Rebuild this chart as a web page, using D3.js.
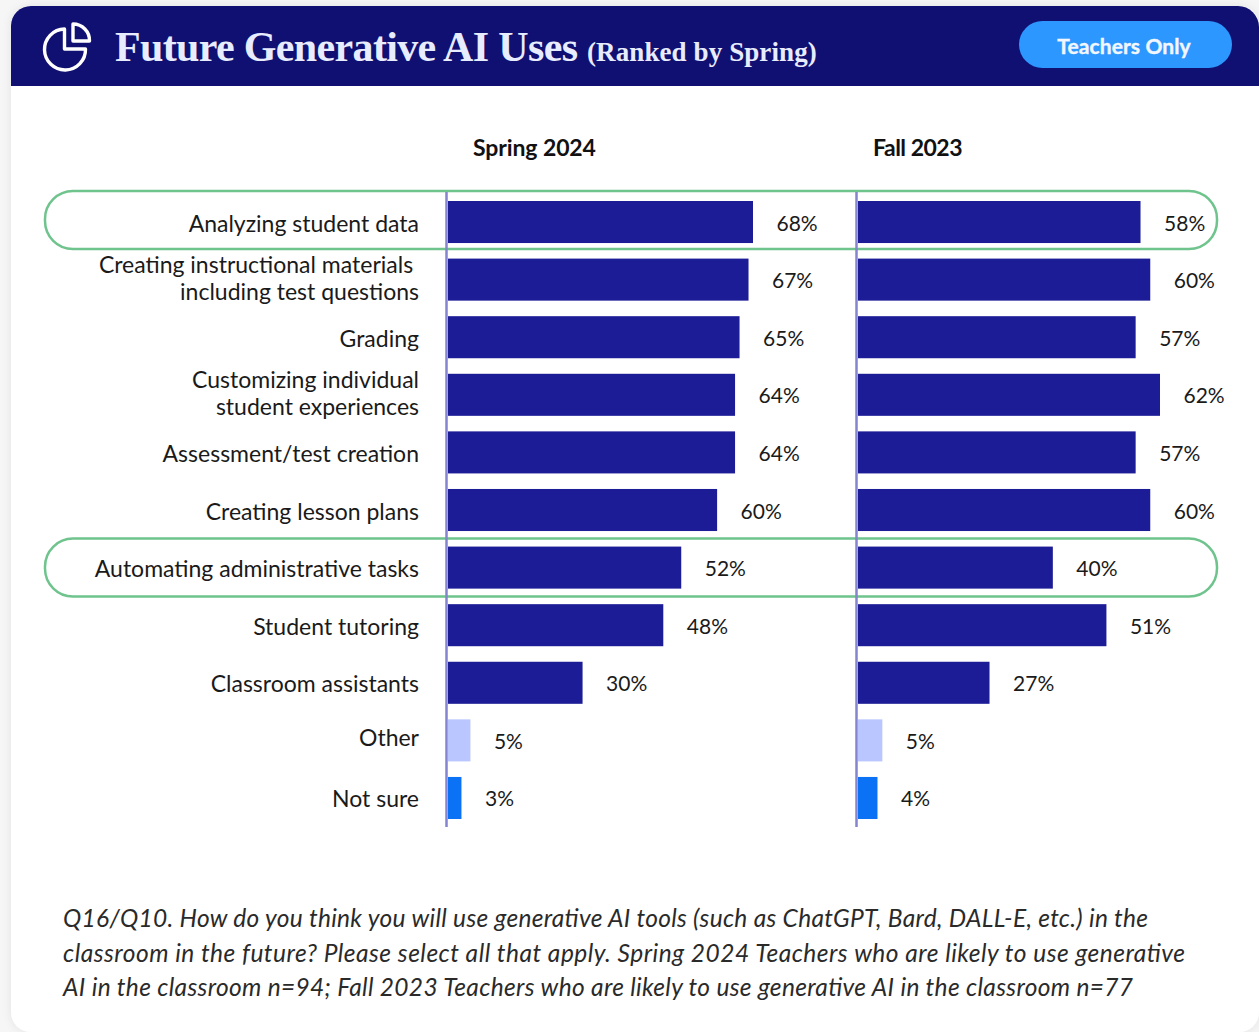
<!DOCTYPE html>
<html>
<head>
<meta charset="utf-8">
<script src="https://d3js.org/d3.v7.min.js"></script>
<style>
  html, body { margin: 0; padding: 0; background: #f6f6f7; overflow: hidden; }
  text { font-family: Lato, sans-serif; }
</style>
</head>
<body>
<div id="chart"></div>
<script>
const categories = [
  ["Analyzing student data"],
  ["Creating instructional materials ", "including test questions"],
  ["Grading"],
  ["Customizing individual", "student experiences"],
  ["Assessment/test creation"],
  ["Creating lesson plans"],
  ["Automating administrative tasks"],
  ["Student tutoring"],
  ["Classroom assistants"],
  ["Other"],
  ["Not sure"]
];
const spring2024 = [68, 67, 65, 64, 64, 60, 52, 48, 30, 5, 3];
const fall2023 = [58, 60, 57, 62, 57, 60, 40, 51, 27, 5, 4];
const highlighted = ["Analyzing student data", "Automating administrative tasks"];
const seriesNames = ["Spring 2024", "Fall 2023"];
const footnote = [
  "Q16/Q10. How do you think you will use generative AI tools (such as ChatGPT, Bard, DALL-E, etc.) in the",
  "classroom in the future? Please select all that apply. Spring 2024 Teachers who are likely to use generative",
  "AI in the classroom n=94; Fall 2023 Teachers who are likely to use generative AI in the classroom n=77"
];

const width = 1259, height = 1032;
const svg = d3.select("#chart").append("svg")
    .attr("width", width)
    .attr("height", height)
    .style("display", "block");

const defs = svg.append("defs");
const shadow = defs.append("filter").attr("id", "shadow")
    .attr("x", "-5%").attr("y", "-5%").attr("width", "110%").attr("height", "110%");
shadow.append("feDropShadow").attr("dx", 0).attr("dy", 0).attr("stdDeviation", 5)
    .attr("flood-color", "#000").attr("flood-opacity", 0.08);

// card + header
svg.append("rect").attr("x", 11).attr("y", 6).attr("width", 1248).attr("height", 1026)
    .attr("rx", 20).attr("fill", "#fff").attr("filter", "url(#shadow)");
svg.append("path").attr("fill", "#101072")
    .attr("d", "M11,86V26a20,20 0 0 1 20,-20H1238a21,21 0 0 1 21,21V86Z");

// pie icon
const icon = svg.append("g").attr("fill", "none").attr("stroke", "#fff")
    .attr("stroke-width", 3.4).attr("stroke-linejoin", "round");
icon.append("path").attr("d", "M64.500,29A20.500,20.500 0 1 0 85.500,49H64.500Z");
icon.append("path").attr("d", "M73,24A16.500,16.500 0 0 1 89.500,41H73Z");

svg.append("text").attr("x", 115).attr("y", 61)
    .attr("font-size", 42).attr("font-weight", 700).attr("fill", "#e8ecff")
    .attr("letter-spacing", -0.65)
    .style("font-family", "'Liberation Serif', serif")
    .text("Future Generative AI Uses");
svg.append("text").attr("x", 587).attr("y", 61)
    .attr("font-size", 27).attr("font-weight", 700).attr("fill", "#e8ecff")
    .attr("letter-spacing", 0.1)
    .style("font-family", "'Liberation Serif', serif")
    .text("(Ranked by Spring)");

svg.append("rect").attr("x", 1019).attr("y", 21).attr("width", 213).attr("height", 47)
    .attr("rx", 23.5).attr("fill", "#2b97ff");
svg.append("text").attr("x", 1124).attr("y", 54).attr("text-anchor", "middle")
    .attr("font-size", 21).attr("font-weight", 700).attr("fill", "#f2f6ff")
    .attr("stroke", "#f2f6ff").attr("stroke-width", 0.4).attr("letter-spacing", 0.1)
    .text("Teachers Only");

// series headers
svg.append("text").attr("x", 473).attr("y", 156).attr("font-size", 23).attr("font-weight", 700)
    .attr("fill", "#111").attr("letter-spacing", -0.1).text(seriesNames[0]);
svg.append("text").attr("x", 873).attr("y", 156).attr("font-size", 23).attr("font-weight", 700)
    .attr("fill", "#111").attr("letter-spacing", -0.5).text(seriesNames[1]);

// scales
const y = d3.scaleBand()
    .domain(categories.map(d => d.join(" ")))
    .range([201, 819])
    .paddingInner(0.27);
const xSpring = d3.scaleLinear().domain([0, 68]).range([448, 753]);
const xFall = d3.scaleLinear().domain([0, 62]).range([858, 1160]);

function barColor(i) {
  if (i === categories.length - 2) return "#b9c6ff";
  if (i === categories.length - 1) return "#0b72f5";
  return "#1c1c96";
}

// highlight pills
svg.append("g").selectAll("rect")
  .data(highlighted)
  .join("rect")
    .attr("x", 45)
    .attr("y", (d, i) => y(d) - (i ? 8 : 10))
    .attr("width", 1172)
    .attr("height", y.bandwidth() + 16)
    .attr("rx", 28)
    .attr("fill", "none")
    .attr("stroke", "#6fc38c")
    .attr("stroke-width", 2.5);

// bars and value labels
[[spring2024, xSpring], [fall2023, xFall]].forEach(([values, x]) => {
  const g = svg.append("g");
  g.append("line")
      .attr("x1", x(0) - 1.500).attr("x2", x(0) - 1.500)
      .attr("y1", 192).attr("y2", 827)
      .attr("stroke", "#8585cf").attr("stroke-width", 2.5);
  g.selectAll("rect")
    .data(values)
    .join("rect")
      .attr("x", x(0))
      .attr("y", (d, i) => y(categories[i].join(" ")))
      .attr("width", d => x(d) - x(0))
      .attr("height", y.bandwidth())
      .attr("fill", (d, i) => barColor(i));
  g.selectAll("text")
    .data(values)
    .join("text")
      .attr("x", d => x(d) + 23.5)
      .attr("y", (d, i) => y(categories[i].join(" ")) + y.bandwidth() / 2 + 8.5)
      .attr("font-size", 21)
      .attr("fill", "#1a1a1a")
      .text(d => d + "%");
});

// category labels ("Other" sits a little high in the original)
const labels = svg.append("g").selectAll("text")
  .data(categories)
  .join("text")
    .attr("text-anchor", "end")
    .attr("font-size", 23)
    .attr("fill", "#1a1a1a")
    .attr("y", (d, i) => y(d.join(" ")) + y.bandwidth() / 2 + (d.length > 1 ? -6.5 : (i === 9 ? 6 : 9.5)));
labels.selectAll("tspan")
  .data(d => d)
  .join("tspan")
    .attr("x", 419)
    .attr("dy", (d, i) => i ? 26.500 : 0)
    .text(d => d);

// footnote, line widths forced to match the original's wider font
const footWidths = [1085, 1122, 1070];
svg.append("g").selectAll("text")
  .data(footnote)
  .join("text")
    .attr("x", 63)
    .attr("y", (d, i) => 927 + i * 34.500)
    .attr("font-size", 24.5)
    .attr("textLength", (d, i) => footWidths[i])
    .attr("lengthAdjust", "spacing")
    .attr("font-style", "italic")
    .attr("fill", "#2a2a2a")
    .text(d => d);
</script>
</body>
</html>
